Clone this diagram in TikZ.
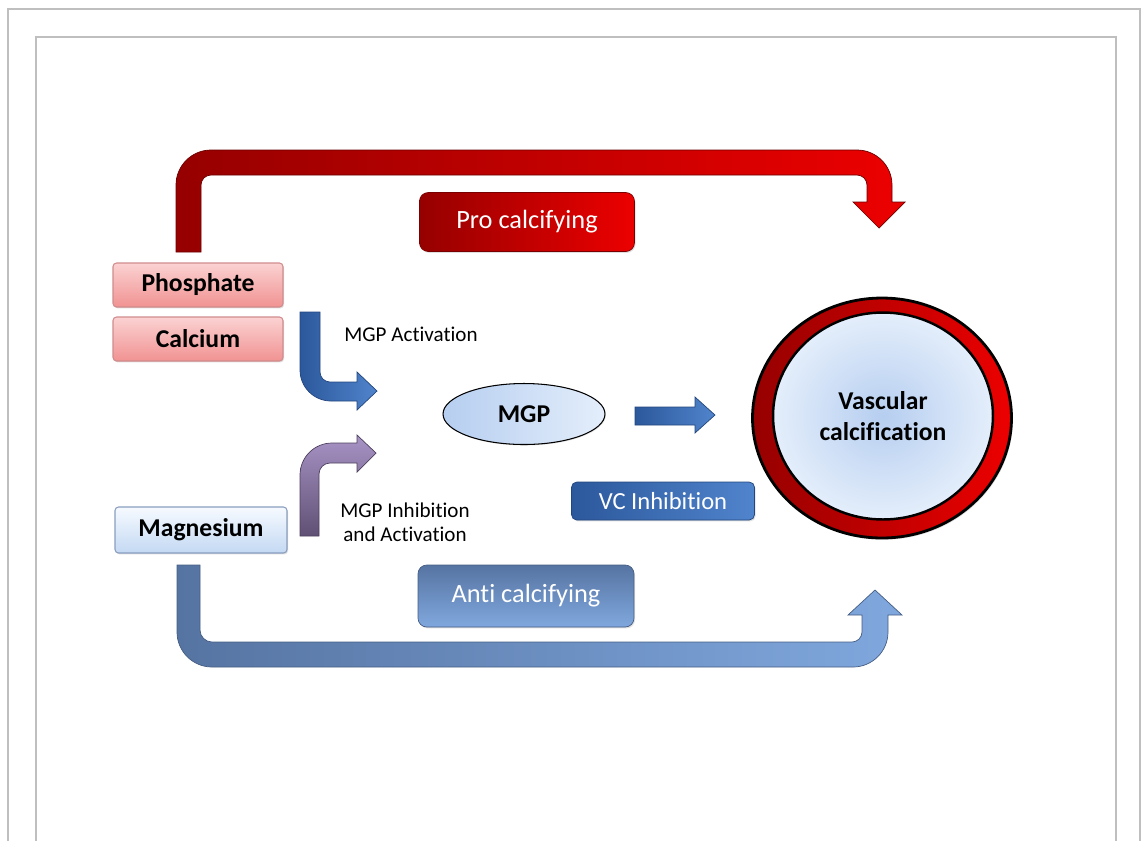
\documentclass[tikz,border=0pt]{standalone}
\usepackage{fontspec}
\setmainfont{Carlito}[Ligatures=NoCommon]
\usepackage{tikz}
\usetikzlibrary{shapes.geometric,shadows,positioning}
\definecolor{VCredD}{RGB}{150,0,0}
\definecolor{VCredL}{RGB}{236,0,0}
\definecolor{VCpinkT}{RGB}{251,210,210}
\definecolor{VCpinkB}{RGB}{241,146,146}
\definecolor{VCmagT}{RGB}{246,250,255}
\definecolor{VCmagB}{RGB}{196,217,243}
\definecolor{VCblueD}{RGB}{44,88,156}
\definecolor{VCblueL}{RGB}{80,132,204}
\definecolor{VCslateD}{RGB}{86,116,162}
\definecolor{VCslateL}{RGB}{128,168,222}
\definecolor{VCpurT}{RGB}{168,148,198}
\definecolor{VCpurB}{RGB}{96,80,116}
\definecolor{VCcoreI}{RGB}{182,206,240}
\definecolor{VCcoreO}{RGB}{228,238,251}
\tikzset{
  vc/ion/.style={draw=#1, rounded corners=2pt, line width=0.6pt, minimum width=3.4cm, minimum height=0.88cm,
    font=\fontsize{14.6}{17}\selectfont\bfseries, drop shadow={opacity=0.25, shadow xshift=0.6pt, shadow yshift=-0.8pt}},
  vc/tag/.style={rounded corners=5pt, line width=0.4pt, text=white, font=\fontsize{15}{18}\selectfont,
    drop shadow={opacity=0.25, shadow xshift=0.6pt, shadow yshift=-0.8pt}},
  vc/note/.style={font=\fontsize{12}{13.6}\selectfont, align=center, inner sep=0pt},
  vc/band/.style={line width=0.4pt, draw=#1},
  vc/frame/.style={line width=#1, black!25}
}

\begin{document}
\begin{tikzpicture}[x=0.02cm,y=-0.02cm]

\useasboundingbox (0,0) rectangle (1146,840);

\draw[vc/frame=1.1pt] (8,850) -- (8,9) -- (1140,9) -- (1140,850);
\draw[vc/frame=0.8pt] (36,850) -- (36,37) -- (1116,37) -- (1116,850);

% block arrows
\path[vc/band=VCredD!70!black, left color=VCredD, right color=VCredL]
  (176,252) -- (176,185) .. controls (176,165.7) and (191.7,150) .. (211,150) -- (857,150)
  .. controls (876.3,150) and (892,165.7) .. (892,185)
  -- (892,202) -- (905,202) -- (879,228) -- (853,202) -- (867,202) -- (867,185)
  .. controls (867,179.5) and (862.5,175) .. (857,175)
  -- (211,175) .. controls (205.5,175) and (201,179.5) .. (201,185) -- (201,252) -- cycle;

\path[vc/band=VCslateD!80!black, left color=VCslateD, right color=VCslateL]
  (177,565) -- (177,632) .. controls (177,651.3) and (192.7,667) .. (212,667) -- (853,667)
  .. controls (872.3,667) and (888,651.3) .. (888,632)
  -- (888,615) -- (902,615) -- (875,590) -- (848,615) -- (862,615) -- (862,632)
  .. controls (862,637.5) and (857.5,642) .. (852,642)
  -- (212,642) .. controls (205.4,642) and (200,636.6) .. (200,630) -- (200,565) -- cycle;

\path[vc/band=VCblueD!80!black, left color=VCblueD, right color=VCblueL]
  (300,312) -- (300,370) .. controls (300,387.1) and (313.9,401) .. (331,401) -- (357,401) -- (357,410)
  -- (377,391) -- (357,372) -- (357,382) -- (330,382) .. controls (324.5,382) and (320,377.5) .. (320,372)
  -- (320,312) -- cycle;

\path[vc/band=VCpurB!80!black, top color=VCpurT, bottom color=VCpurB]
  (300,536) -- (300,475) .. controls (300,457.3) and (314.3,443) .. (332,443) -- (357,443) -- (357,435)
  -- (376,453) -- (357,472) -- (357,463) -- (330,463) .. controls (323.9,463) and (319,467.9) .. (319,474)
  -- (319,536) -- cycle;

\path[vc/band=VCblueD!80!black, left color=VCblueD, right color=VCblueL]
  (635,407) -- (695,407) -- (695,397) -- (715,415) -- (695,433) -- (695,425) -- (635,425) -- cycle;

% boxes
\node[vc/ion=VCredD!45, top color=VCpinkT, bottom color=VCpinkB] (phosphate) at (198,285) {Phosphate};
\node[vc/ion=VCredD!45, top color=VCpinkT, bottom color=VCpinkB] (calcium) at (198,339) {Calcium};
\node[vc/ion=VCslateD!70, top color=VCmagT, bottom color=VCmagB, minimum width=3.44cm, minimum height=0.92cm] (magnesium) at (201,530) {Magnesium};

\node[vc/tag, draw=VCredD!80!black, left color=VCredD, right color=VCredL, minimum width=4.3cm, minimum height=1.18cm] (pro) at (527,222) {Pro calcifying};
\node[vc/tag, draw=VCslateD!80!black, top color=VCslateD, bottom color=VCslateL, minimum width=4.32cm, minimum height=1.24cm] (anti) at (526,596) {Anti calcifying};
\node[vc/tag, draw=VCblueD!80!black, left color=VCblueD, right color=VCblueL, rounded corners=3pt, minimum width=3.66cm, minimum height=0.76cm, font=\fontsize{14}{17}\selectfont] (vcinh) at (663,501) {VC Inhibition};

\node[ellipse, draw=black, line width=0.6pt, left color=VCcoreI, right color=VCcoreO, minimum width=3.24cm, minimum height=1.22cm,
  font=\fontsize{14.6}{17}\selectfont\bfseries, drop shadow={opacity=0.2, shadow xshift=0.5pt, shadow yshift=-0.6pt}] (mgp) at (524,414) {MGP};

\node[ellipse, draw=black, line width=1.6pt, left color=VCredD, right color=VCredL, minimum width=5.18cm, minimum height=4.8cm,
  drop shadow={opacity=0.25, shadow xshift=0.8pt, shadow yshift=-1pt}] (wall) at (882,418) {};
\node[ellipse, draw=black, line width=1.4pt, inner color=VCcoreI, outer color=VCcoreO, minimum width=4.4cm, minimum height=4.14cm,
  align=center, inner sep=0pt, font=\fontsize{14.6}{18}\selectfont\bfseries] (vascular) at (883,416) {Vascular\\calcification};

% labels
\node[vc/note] (act) at (411,334) {MGP Activation};
\node[vc/note] (inhact) at (405,522) {MGP Inhibition\\and Activation};

\end{tikzpicture}
\end{document}
